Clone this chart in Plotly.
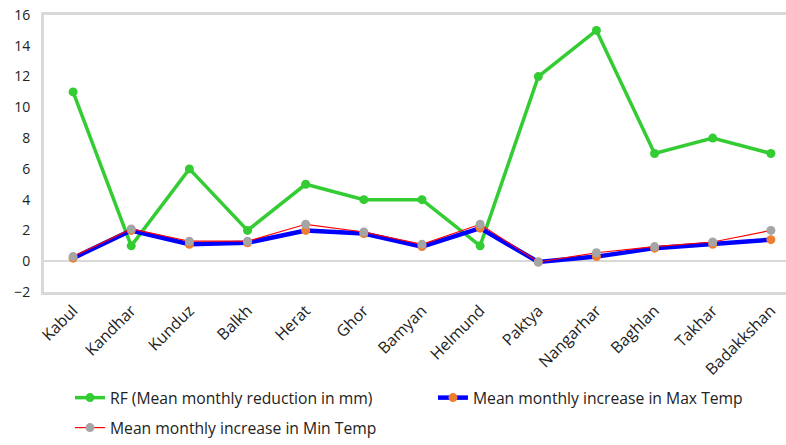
import plotly.graph_objects as go

provinces = ["Kabul", "Kandhar", "Kunduz", "Balkh", "Herat", "Ghor", "Bamyan",
             "Helmund", "Paktya", "Nangarhar", "Baghlan", "Takhar", "Badakkshan"]
rf_reduction = [11, 1, 6, 2, 5, 4, 4, 1, 12, 15, 7, 8, 7]
max_temp_increase = [0.2, 2.0, 1.1, 1.2, 2.0, 1.8, 0.95, 2.15, -0.05, 0.3, 0.85, 1.1, 1.4]
min_temp_increase = [0.3, 2.1, 1.3, 1.3, 2.4, 1.9, 1.1, 2.4, -0.05, 0.55, 0.95, 1.25, 2.0]

font_family = "Open Sans, Liberation Sans, sans-serif"
text_color = "#222222"

fig = go.Figure()
fig.add_trace(go.Scatter(
    x=provinces, y=rf_reduction, mode="lines+markers",
    name="RF (Mean monthly reduction in mm)",
    line=dict(color="#33CC33", width=3.5),
    marker=dict(color="#33CC33", size=9),
    legend="legend",
))
fig.add_trace(go.Scatter(
    x=provinces, y=max_temp_increase, mode="lines+markers",
    name="Mean monthly increase in Max Temp",
    line=dict(color="#0000FF", width=4.5),
    marker=dict(color="#ED7D31", size=9),
    legend="legend",
))
fig.add_trace(go.Scatter(
    x=provinces, y=min_temp_increase, mode="lines+markers",
    name="Mean monthly increase in Min Temp",
    line=dict(color="#FF0000", width=1.2),
    marker=dict(color="#A5A5A5", size=9),
    legend="legend2",
))

fig.update_layout(
    width=786, height=445,
    margin=dict(l=44, r=0, t=15, b=153, autoexpand=False),
    plot_bgcolor="white", paper_bgcolor="white",
    font=dict(family=font_family, size=14, color=text_color),
    showlegend=True,
    legend=dict(orientation="h", x=0.035, y=-0.321, xanchor="left", yanchor="top",
                entrywidth=318, entrywidthmode="pixels",
                font=dict(size=15.7, color=text_color), bgcolor="rgba(0,0,0,0)"),
    legend2=dict(orientation="h", x=0.035, y=-0.552, xanchor="left", yanchor="bottom",
                 font=dict(size=15.7, color=text_color), bgcolor="rgba(0,0,0,0)"),
    xaxis=dict(
        range=[-0.5, 12.26], tickangle=-45, showgrid=False, automargin=False,
        showline=True, linecolor="#D9D9D9", linewidth=3, mirror=True,
        ticks="", tickfont=dict(size=16, color=text_color),
    ),
    yaxis=dict(
        range=[-2, 16], dtick=2, showgrid=False, automargin=False,
        zeroline=True, zerolinecolor="#D9D9D9", zerolinewidth=1.5,
        showline=True, linecolor="#D9D9D9", linewidth=3,
        ticks="", ticklabelstandoff=8, tickfont=dict(size=14, color=text_color),
    ),
)

fig.write_html("out.html")
